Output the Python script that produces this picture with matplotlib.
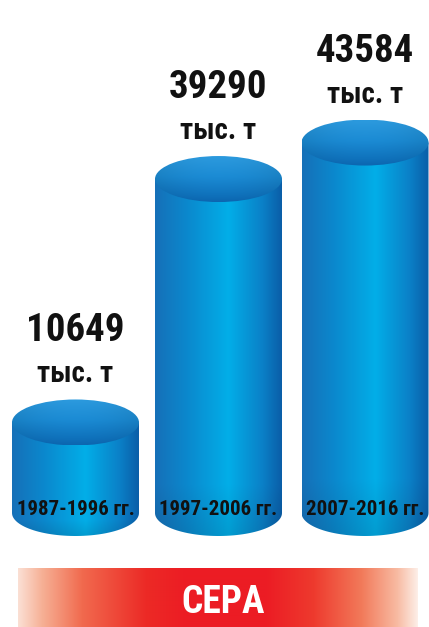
import os
import numpy as np
import matplotlib
matplotlib.use('Agg')
import matplotlib.pyplot as plt
from matplotlib.path import Path
from matplotlib.patches import PathPatch, Ellipse
from matplotlib import font_manager as fm
from matplotlib.colors import to_rgb

# ---- data ----
periods = ['1987-1996 гг.', '1997-2006 гг.', '2007-2016 гг.']
values = [10649, 39290, 43584]
unit_label = 'тыс. т'
banner_label = 'СЕРА'

# ---- font: look for a condensed bold face ----
prefs = ['liberationsansnarrow-bold.ttf', 'notosans-condensedbold.ttf',
         'robotocondensed-bold.ttf', 'opensans-condbold.ttf',
         'opensans_condensed-bold.ttf', 'dejavusanscondensed-bold.ttf']
files = {os.path.basename(f.fname).lower(): f.fname for f in fm.fontManager.ttflist}
FP = None
NARROW = False
for p in prefs:
    if p in files:
        FP = fm.FontProperties(fname=files[p])
        NARROW = True
        break
if FP is None:
    for f in fm.fontManager.ttflist:
        b = os.path.basename(f.fname).lower()
        if ('narrow' in b or 'condensed' in b or 'cond' in b) and 'bold' in b \
                and 'semi' not in b and 'extra' not in b and 'italic' not in b:
            FP = fm.FontProperties(fname=f.fname)
            NARROW = True
            break
if FP is None:
    FP = fm.FontProperties(family='Roboto', weight='bold')

def fp(size):
    q = FP.copy()
    q.set_size(size)
    return q

s = 1.0 if NARROW else 0.82

W, H = 429, 627
fig = plt.figure(figsize=(W / 100, H / 100), dpi=100)
ax = fig.add_axes([0, 0, 1, 1])
ax.set_xlim(0, W)
ax.set_ylim(H, 0)
ax.axis('off')

def grad(stops, n):
    pos = np.array([st[0] for st in stops])
    cols = np.array([to_rgb(st[1]) for st in stops])
    t = np.linspace(0, 1, n)
    return np.stack([np.interp(t, pos, cols[:, i]) for i in range(3)], axis=-1)

body_stops = [(0.0, '#1670b8'), (0.25, '#0b88cd'), (0.58, '#02aee8'),
              (0.85, '#0b80c7'), (1.0, '#0a5ea8')]
top_v_stops = [(0.0, '#2c9ade'), (0.45, '#1b8bd4'), (0.85, '#0f72bc'), (1.0, '#0c66b0')]

cyl_w = 127
centers = [75.5, 218.5, 365]
base_y = 513      # centre of bottom ellipse (pixels)
ry = 23
k = 0.0085        # pixels per tonne (thousands)

for cx, v, per in zip(centers, values, periods):
    x0, x1 = cx - cyl_w / 2, cx + cyl_w / 2
    ytop = base_y - v * k
    t = np.linspace(0, np.pi, 60)
    arc = np.column_stack([cx - (cyl_w / 2) * np.cos(t), base_y + ry * np.sin(t)])
    verts = np.vstack([[x0, ytop], [x0, base_y], arc, [x1, ytop], [x0, ytop]])
    codes = [Path.MOVETO] + [Path.LINETO] * (len(verts) - 2) + [Path.CLOSEPOLY]
    patch = PathPatch(Path(verts, codes), facecolor='none', edgecolor='none',
                      transform=ax.transData)
    ax.add_patch(patch)
    row = grad(body_stops, 200)
    nrows = 100
    img = np.repeat(row[None, :, :], nrows, axis=0)
    shade = np.ones(nrows)
    shade[-15:] = np.linspace(1, 0.9, 15)
    img = img * shade[:, None, None]
    im = ax.imshow(img, extent=[x0, x1, base_y + ry, ytop], aspect='auto',
                   interpolation='bilinear', zorder=2)
    im.set_clip_path(patch)

    ell = Ellipse((cx, ytop), cyl_w, 2 * ry, facecolor='none', edgecolor='none',
                  transform=ax.transData, zorder=3)
    ax.add_patch(ell)
    col = grad(top_v_stops, 100)
    timg = np.repeat(col[:, None, :], 100, axis=1)
    hx = np.linspace(-1, 1, 100)
    hfac = 1.0 - 0.08 * hx ** 2
    timg = np.clip(timg * hfac[None, :, None], 0, 1)
    im2 = ax.imshow(timg, extent=[x0, x1, ytop + ry, ytop - ry], aspect='auto',
                    interpolation='bilinear', zorder=3)
    im2.set_clip_path(ell)

    ax.text(cx, ytop - ry - 58, f'{v}', ha='center', va='baseline',
            fontproperties=fp(28 * s), color='#111111', zorder=5)
    ax.text(cx, ytop - ry - 17, unit_label, ha='center', va='baseline',
            fontproperties=fp(21 * s), color='#111111', zorder=5)
    ax.text(cx, 515, per, ha='center', va='baseline',
            fontproperties=fp(15 * s), color='#111111', zorder=5)

bx0, bx1, by0, by1 = 18, 418, 568, 627
banner_stops = [(0.0, '#fbe0d4'), (0.06, '#f6b095'), (0.16, '#f16a4e'),
                (0.32, '#ec2a26'), (0.42, '#ec1c24'), (0.62, '#ec1c24'),
                (0.74, '#ee3a2e'), (0.86, '#f27a5a'), (0.95, '#f8bba3'), (1.0, '#fdeee7')]
brow = grad(banner_stops, 400)
bimg = np.repeat(brow[None, :, :], 10, axis=0)
ax.imshow(bimg, extent=[bx0, bx1, by1, by0], aspect='auto', interpolation='bilinear', zorder=1)
ax.text(223, 613, banner_label, ha='center', va='baseline',
        fontproperties=fp(27 * s), color='white', zorder=5)

ax.set_xlim(0, W)
ax.set_ylim(H, 0)
fig.savefig('out.png', dpi=100)
